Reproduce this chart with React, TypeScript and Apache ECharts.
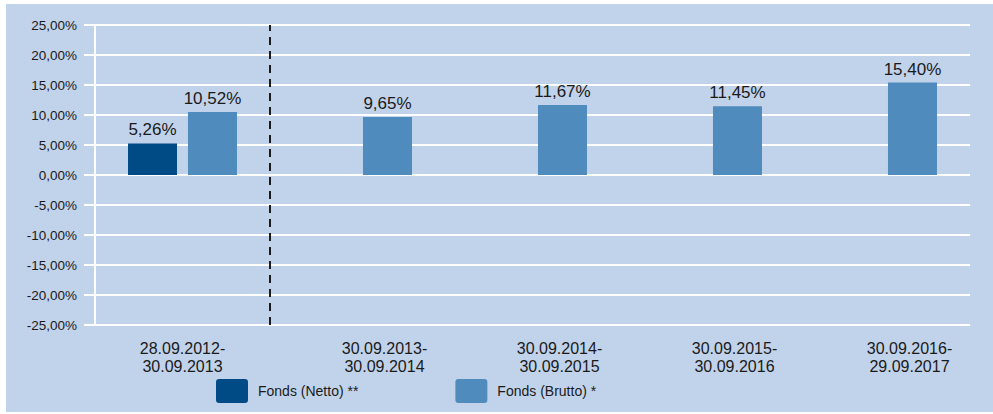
import React, { useEffect, useRef } from "react";
import * as echarts from "echarts";

const categories = [
  "28.09.2012-\n30.09.2013",
  "30.09.2013-\n30.09.2014",
  "30.09.2014-\n30.09.2015",
  "30.09.2015-\n30.09.2016",
  "30.09.2016-\n29.09.2017",
];
const nettoName = "Fonds (Netto) **";
const bruttoName = "Fonds (Brutto) *";
const nettoValues: (number | null)[] = [5.26, null, null, null, null];
const bruttoValues: number[] = [10.52, 9.65, 11.67, 11.45, 15.4];
const yMin = -25;
const yMax = 25;
const yStep = 5;
const dividerAt = 1; // boundary after first period

const FONT = "'Liberation Sans', Arial, sans-serif";
const TEXT = "#1a1a1a";
const fmt = (v: number) => v.toFixed(2).replace(".", ",") + "%";

export default function App() {
  const ref = useRef<HTMLDivElement>(null);
  useEffect(() => {
    if (!ref.current) return;
    const chart = echarts.init(ref.current, null, { renderer: "svg" });
    const legendIcon =
      "path://M3,0H29Q32,0,32,3V21Q32,24,29,24H3Q0,24,0,21V3Q0,0,3,0Z";
    chart.setOption({
      animation: false,
      backgroundColor: "transparent",
      textStyle: { fontFamily: FONT },
      grid: { left: 95, right: 23, top: 25, bottom: 89, containLabel: false },
      legend: {
        data: [nettoName, bruttoName],
        left: 216,
        top: 379,
        padding: 0,
        itemWidth: 32,
        itemHeight: 24,
        itemGap: 97,
        icon: legendIcon,
        selectedMode: false,
        textStyle: {
          fontFamily: FONT,
          fontSize: 14,
          color: TEXT,
          padding: [0, 0, 0, 5],
        },
      },
      xAxis: [
        {
          type: "category",
          data: categories.map((c, i) =>
            i === 0
              ? { value: c }
              : { value: c, textStyle: { padding: [0, 0, 0, 54] } }
          ),
          axisLine: { show: false },
          axisTick: { show: false },
          splitLine: { show: false },
          axisLabel: {
            interval: 0,
            margin: 15,
            fontFamily: FONT,
            fontSize: 16,
            lineHeight: 17.5,
            color: TEXT,
          },
        },
        {
          type: "value",
          min: 0,
          max: categories.length,
          show: false,
        },
      ],
      yAxis: {
        type: "value",
        min: yMin,
        max: yMax,
        interval: yStep,
        axisLine: { show: true, lineStyle: { color: "#ffffff", width: 2 } },
        axisTick: {
          show: true,
          length: 11,
          lineStyle: { color: "#ffffff", width: 2 },
        },
        splitLine: { show: true, lineStyle: { color: "#ffffff", width: 2 } },
        axisLabel: {
          margin: 18,
          fontFamily: FONT,
          fontSize: 13.5,
          color: TEXT,
          formatter: (v: number) => fmt(v),
        },
      },
      series: [
        {
          name: nettoName,
          type: "bar",
          data: nettoValues.map((v) => (v == null ? "-" : v)),
          barWidth: 49,
          barGap: "22.4%",
          itemStyle: { color: "#004a85" },
          label: {
            show: true,
            position: "top",
            distance: 5,
            fontFamily: FONT,
            fontSize: 17,
            color: TEXT,
            formatter: (p: any) => fmt(p.value),
          },
        },
        {
          name: bruttoName,
          type: "bar",
          data: bruttoValues,
          barWidth: 49,
          barGap: "22.4%",
          itemStyle: { color: "#508bbe" },
          label: {
            show: true,
            position: "top",
            distance: 5,
            fontFamily: FONT,
            fontSize: 17,
            color: TEXT,
            formatter: (p: any) => fmt(p.value),
          },
        },
        {
          name: "divider",
          type: "line",
          xAxisIndex: 1,
          data: [[dividerAt, 0]],
          showSymbol: false,
          symbolSize: 0,
          lineStyle: { opacity: 0 },
          silent: true,
          markLine: {
            silent: true,
            symbol: "none",
            label: { show: false },
            lineStyle: { color: "#1a1a1a", width: 2, type: [8, 6] },
            data: [{ xAxis: dividerAt }],
          },
        },
      ],
    });
    return () => chart.dispose();
  }, []);
  return (
    <div
      style={{
        position: "fixed",
        left: 0,
        top: 0,
        width: 993,
        height: 414,
        background: "#ffffff",
      }}
    >
      <div
        style={{
          position: "absolute",
          left: 6,
          top: 4,
          width: 987,
          height: 408,
          background: "#c1d3eb",
        }}
      />
      <div
        ref={ref}
        style={{ position: "absolute", left: 0, top: 0, width: 993, height: 414 }}
      />
    </div>
  );
}
